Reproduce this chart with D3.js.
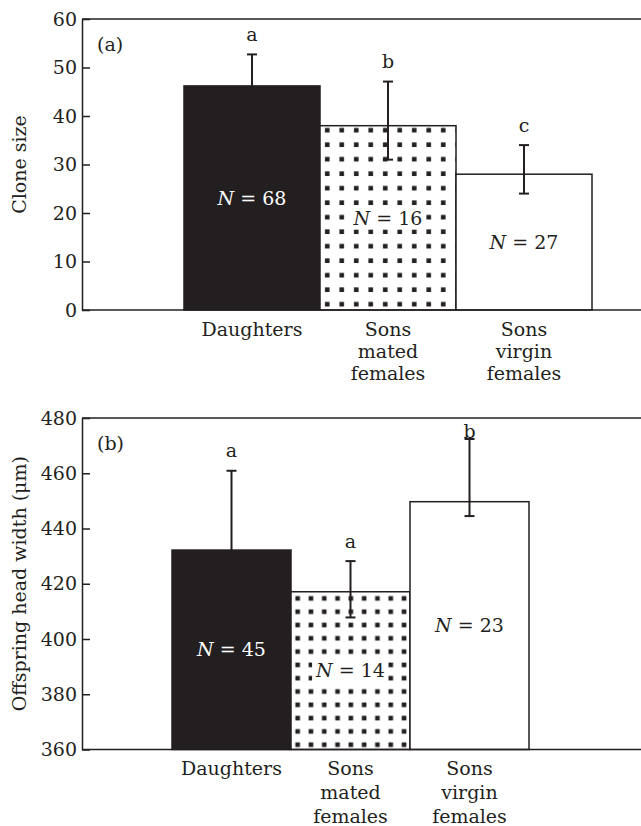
<!DOCTYPE html>
<html>
<head>
<meta charset="utf-8">
<script src="https://cdn.jsdelivr.net/npm/d3@7"></script>
<style>
  body { margin: 0; background: #fff; }
  text { font-family: "DejaVu Serif", serif; fill: #231f20; }
</style>
</head>
<body>
<svg id="chart" width="641" height="826"></svg>
<script>
// categories (one array per line of the x label)
const groupKeys = ["daughters", "mated", "virgin"];
const groupLabels = [["Daughters"], ["Sons", "mated", "females"], ["Sons", "virgin", "females"]];

// (a) clone size
const cloneMean = [46.2, 38.0, 28.0];
const cloneHigh = [52.7, 47.1, 34.0];
const cloneLow = [46.2, 31.0, 24.0];
const cloneN = [68, 16, 27];
const cloneLetters = ["a", "b", "c"];
const cloneTicks = [0, 10, 20, 30, 40, 50, 60];

// (b) offspring head width
const headMean = [432.2, 417.1, 449.7];
const headHigh = [460.9, 428.2, 472.4];
const headLow = [432.2, 407.8, 444.5];
const headN = [45, 14, 23];
const headLetters = ["a", "a", "b"];
const headTicks = [360, 380, 400, 420, 440, 460, 480];

const ink = "#231f20";
const svg = d3.select("#chart");

function drawPanel(p) {
  const g = svg.append("g");
  const y = d3.scaleLinear().domain(p.domain).range([p.bottom, p.top]);
  const x = d3.scaleBand().domain(groupKeys).range(p.barRange).padding(0);

  // dotted pattern for the "sons of mated females" bar
  const pid = "dots-" + p.id;
  const bx = x("mated"), by = y(p.mean[1]);
  const pat = svg.append("defs").append("pattern")
    .attr("id", pid)
    .attr("patternUnits", "userSpaceOnUse")
    .attr("x", bx).attr("y", by)
    .attr("width", p.cell).attr("height", p.cell);
  pat.append("rect").attr("width", p.cell).attr("height", p.cell).attr("fill", "#fff");
  pat.append("rect")
    .attr("x", p.cell / 2 - 2.3).attr("y", p.dotY - 2.3)
    .attr("width", 4.6).attr("height", 4.6)
    .attr("fill", ink);

  const fills = [ink, `url(#${pid})`, "#fff"];

  const rows = groupKeys.map((k, i) => ({
    key: k, mean: p.mean[i], hi: p.high[i], lo: p.low[i],
    n: p.n[i], letter: p.letters[i], fill: fills[i], labels: groupLabels[i], i
  }));

  // bars
  g.selectAll(".bar").data(rows).enter().append("rect")
    .attr("class", "bar")
    .attr("x", d => x(d.key))
    .attr("y", d => y(d.mean))
    .attr("width", x.bandwidth())
    .attr("height", d => p.bottom - y(d.mean))
    .attr("fill", d => d.fill)
    .attr("stroke", ink)
    .attr("stroke-width", 1.5);

  // error bars
  const cx = d => x(d.key) + x.bandwidth() / 2;
  const err = g.selectAll(".err").data(rows).enter().append("g").attr("class", "err")
    .attr("stroke", ink).attr("stroke-width", 2);
  err.append("line")
    .attr("x1", cx).attr("x2", cx)
    .attr("y1", d => y(d.hi)).attr("y2", d => y(d.lo));
  err.append("line")
    .attr("x1", d => cx(d) - 5).attr("x2", d => cx(d) + 5)
    .attr("y1", d => y(d.hi)).attr("y2", d => y(d.hi));
  err.filter(d => d.lo < d.mean).append("line")
    .attr("x1", d => cx(d) - 5).attr("x2", d => cx(d) + 5)
    .attr("y1", d => y(d.lo)).attr("y2", d => y(d.lo));

  // significance letters
  g.selectAll(".letter").data(rows).enter().append("text")
    .attr("class", "letter")
    .attr("x", cx)
    .attr("y", d => Math.max(y(d.hi) - 20, p.top + 13))
    .attr("dy", "0.35em")
    .attr("text-anchor", "middle")
    .style("font-size", "19px")
    .text(d => d.letter);

  // N labels, white box behind so the dots don't cross them
  const nl = g.selectAll(".nlab").data(rows).enter().append("g").attr("class", "nlab");
  const nt = nl.append("text")
    .attr("x", cx)
    .attr("y", d => (y(d.mean) + p.bottom) / 2)
    .attr("dy", "0.35em")
    .attr("text-anchor", "middle")
    .style("font-size", "19px")
    .style("fill", d => d.i === 0 ? "#fff" : ink);
  nt.append("tspan").style("font-style", "italic").text("N");
  nt.append("tspan").text(d => " = " + d.n);
  nl.filter(d => d.i === 1).each(function () {
    const t = d3.select(this).select("text");
    const bb = t.node().getBBox();
    d3.select(this).insert("rect", "text")
      .attr("x", bb.x - 3).attr("y", bb.y)
      .attr("width", bb.width + 6).attr("height", bb.height + 1)
      .attr("fill", "#fff");
  });

  // x category labels
  const xl = g.selectAll(".xlab").data(rows).enter().append("text")
    .attr("class", "xlab")
    .attr("text-anchor", "middle")
    .style("font-size", "19px");
  xl.selectAll("tspan").data(d => d.labels.map(s => ({ s, c: cx(d) }))).enter().append("tspan")
    .attr("x", d => d.c)
    .attr("y", (d, j) => p.bottom + 19 + j * p.lineGap)
    .attr("dy", "0.35em")
    .text(d => d.s);

  // frame lines (top and bottom run to the page edge, no right side)
  g.append("line").attr("x1", p.left).attr("x2", 641).attr("y1", p.top).attr("y2", p.top)
    .attr("stroke", ink).attr("stroke-width", 1.5);
  g.append("line").attr("x1", p.left).attr("x2", 641).attr("y1", p.bottom).attr("y2", p.bottom)
    .attr("stroke", ink).attr("stroke-width", 1.5);

  // y axis, ticks pointing inward
  const ax = g.append("g").attr("transform", `translate(${p.left},0)`)
    .call(d3.axisLeft(y).tickValues(p.ticks).tickSizeInner(-8).tickSizeOuter(0).tickPadding(5));
  ax.attr("font-family", null).attr("font-size", null);
  ax.select(".domain").attr("stroke", ink).attr("stroke-width", 1.5);
  ax.selectAll(".tick line").attr("stroke", ink).attr("stroke-width", 1.5);
  ax.selectAll(".tick text").style("font-size", "19px").style("fill", ink);

  // panel tag
  g.append("text").attr("x", p.left + 15).attr("y", p.top + 25)
    .attr("dy", "0.35em").style("font-size", "19px").text(p.tag);

  // y title
  g.append("text")
    .attr("transform", `translate(19,${(p.top + p.bottom) / 2}) rotate(-90)`)
    .attr("text-anchor", "middle").attr("dy", "0.35em")
    .style("font-size", "19px")
    .text(p.title);
}

drawPanel({
  id: "a", tag: "(a)", title: "Clone size",
  domain: [0, 60], ticks: cloneTicks,
  mean: cloneMean, high: cloneHigh, low: cloneLow, n: cloneN, letters: cloneLetters,
  left: 82, top: 19, bottom: 310, barRange: [184, 592],
  cell: 14.5, dotY: 4.5, lineGap: 22
});

drawPanel({
  id: "b", tag: "(b)", title: "Offspring head width (\u03bcm)",
  domain: [360, 480], ticks: headTicks,
  mean: headMean, high: headHigh, low: headLow, n: headN, letters: headLetters,
  left: 82, top: 418, bottom: 749.5, barRange: [172, 529],
  cell: 13.3, dotY: 6.65, lineGap: 24
});
</script>
</body>
</html>
